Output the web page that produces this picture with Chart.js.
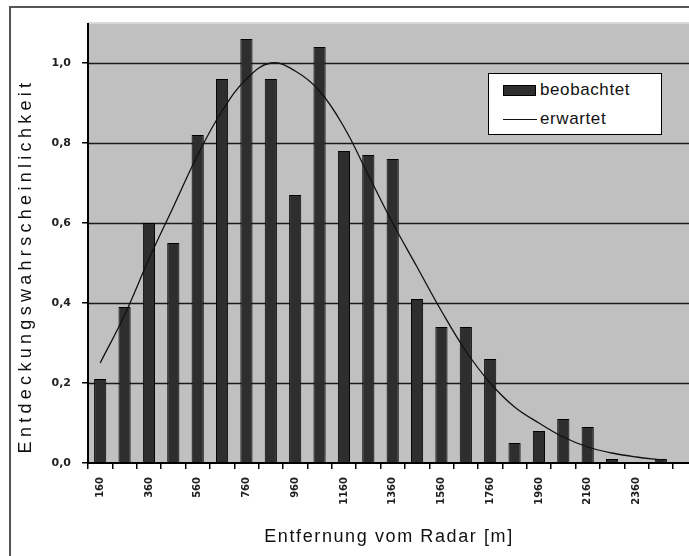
<!DOCTYPE html>
<html>
<head>
<meta charset="utf-8">
<script src="https://cdn.jsdelivr.net/npm/chart.js@4/dist/chart.umd.min.js"></script>
<style>
  html, body { margin: 0; padding: 0; background: #fff; }
  #wrap { position: relative; width: 689px; height: 556px; overflow: hidden; }
  #legend {
    position: absolute; left: 488px; top: 73px; width: 174px; height: 62px;
    background: #fff; border: 1px solid #000; box-sizing: border-box;
    font-family: 'Liberation Sans', Arial, sans-serif; font-size: 17px; letter-spacing: 0.6px; color: #111;
  }
  #legend .it { position: absolute; left: 14px; display: flex; align-items: center; }
  #legend .sw-bar { width: 31px; height: 9px; background: #2e2e2e; border: 1px solid #000; margin-right: 4px; }
  #legend .sw-line { width: 34px; height: 0; border-top: 1.5px solid #111; margin-right: 3px; }
</style>
</head>
<body>
<div id="wrap">
  <canvas id="chart-radar" width="689" height="556"></canvas>
  <div id="legend">
    <div class="it" style="top:6px"><span class="sw-bar"></span>beobachtet</div>
    <div class="it" style="top:35px"><span class="sw-line"></span>erwartet</div>
  </div>
</div>
<script>
// Entfernung (Kategorien, Schritt 100 m)
const ENTFERNUNG = [160, 260, 360, 460, 560, 660, 760, 860, 960, 1060, 1160, 1260,
                    1360, 1460, 1560, 1660, 1760, 1860, 1960, 2060, 2160, 2260, 2360, 2460];
// beobachtet (Balken)
const BEOBACHTET = [0.21, 0.39, 0.60, 0.55, 0.82, 0.96, 1.06, 0.96, 0.67, 1.04, 0.78, 0.77,
                    0.76, 0.41, 0.34, 0.34, 0.26, 0.05, 0.08, 0.11, 0.09, 0.01, 0, 0.01];
// erwartet (Kurve)
const ERWARTET = [0.25, 0.37, 0.51, 0.64, 0.77, 0.88, 0.96, 1.00, 0.98, 0.93, 0.84, 0.72,
                  0.60, 0.49, 0.38, 0.28, 0.20, 0.14, 0.10, 0.065, 0.04, 0.025, 0.015, 0.008];
const Y_TICKS = [0, 0.2, 0.4, 0.6, 0.8, 1.0];

const X_TITLE = 'Entfernung vom Radar [m]';
const Y_TITLE = 'Entdeckungswahrscheinlichkeit';

// Hintergrund, Rahmen, Gitter über die volle Breite
const plotBg = {
  id: 'plotBg',
  beforeDraw(chart) {
    const { ctx, chartArea: a, width, height } = chart;
    ctx.save();
    ctx.fillStyle = '#fff';
    ctx.fillRect(0, 0, width, height);
    ctx.strokeStyle = '#555';
    ctx.lineWidth = 2;
    ctx.beginPath();
    ctx.moveTo(10, height); ctx.lineTo(10, 7); ctx.lineTo(width, 7);
    ctx.stroke();
    ctx.fillStyle = '#c0c0c0';
    ctx.fillRect(a.left, a.top, width - a.left, a.bottom - a.top);
    ctx.fillStyle = '#d8d8d8';
    ctx.fillRect(a.left, a.top - 1, width - a.left, 2);
    ctx.restore();
  },
  beforeDatasetsDraw(chart) {
    const { ctx, chartArea: a, width, scales: { y } } = chart;
    ctx.save();
    ctx.strokeStyle = '#1a1a1a';
    ctx.lineWidth = 1.6;
    Y_TICKS.forEach(v => {
      if (v === 0) return;
      const py = Math.round(y.getPixelForValue(v)) + 0.5;
      ctx.beginPath(); ctx.moveTo(a.left, py); ctx.lineTo(width, py); ctx.stroke();
    });
    ctx.restore();
  },
  afterDraw(chart) {
    const { ctx, chartArea: a, width, scales: { y } } = chart;
    ctx.save();
    ctx.strokeStyle = '#000';
    ctx.lineWidth = 2;
    const py = y.getPixelForValue(0);
    ctx.beginPath(); ctx.moveTo(a.left, py); ctx.lineTo(width, py); ctx.stroke();
    ctx.beginPath(); ctx.moveTo(a.left, a.top); ctx.lineTo(a.left, py); ctx.stroke();
    // Achsentitel
    ctx.fillStyle = '#111';
    ctx.font = "18px 'Liberation Sans', Arial, sans-serif";
    ctx.textAlign = 'center';
    ctx.textBaseline = 'middle';
    ctx.letterSpacing = '1.6px';
    ctx.fillText(X_TITLE, 389, 537);
    ctx.translate(26, 266);
    ctx.rotate(-Math.PI / 2);
    ctx.letterSpacing = '4.3px';
    ctx.fillText(Y_TITLE, 0, 0);
    ctx.restore();
  }
};

new Chart(document.getElementById('chart-radar').getContext('2d'), {
  type: 'bar',
  data: {
    labels: ENTFERNUNG,
    datasets: [
      {
        type: 'line',
        label: 'erwartet',
        data: ERWARTET,
        borderColor: '#111',
        borderWidth: 1.3,
        pointRadius: 0,
        tension: 0.4,
        fill: false,
        order: 0
      },
      {
        label: 'beobachtet',
        data: BEOBACHTET,
        backgroundColor: '#2e2e2e',
        borderColor: '#000',
        borderWidth: 1,
        categoryPercentage: 1,
        barPercentage: 0.5,
        order: 1
      }
    ]
  },
  options: {
    responsive: false,
    animation: false,
    devicePixelRatio: 1,
    layout: { padding: { top: 23, right: 16, left: 0, bottom: 0 } },
    plugins: { legend: { display: false }, tooltip: { enabled: false } },
    scales: {
      x: {
        offset: true,
        afterFit: s => { s.height = 93; },
        grid: { offset: true, drawOnChartArea: false, drawTicks: true, tickLength: 6, color: '#000', lineWidth: 1.5 },
        border: { display: false },
        ticks: {
          autoSkip: false, minRotation: 90, maxRotation: 90, padding: 8, color: '#222',
          font: { family: "'DejaVu Sans', sans-serif", size: 10, weight: 'bold' },
          callback: (v, i) => i % 2 === 0 ? String(ENTFERNUNG[i]) : ''
        }
      },
      y: {
        min: 0, max: 1.1,
        afterFit: s => { s.width = 88; },
        afterBuildTicks: s => { s.ticks = Y_TICKS.map(v => ({ value: v })); },
        grid: { drawOnChartArea: false, drawTicks: true, tickLength: 6, color: '#000', lineWidth: 1.5 },
        border: { display: false },
        ticks: {
          padding: 11, color: '#222',
          font: { family: "'DejaVu Sans', sans-serif", size: 11, weight: 'bold' },
          callback: v => v.toFixed(1).replace('.', ',')
        }
      }
    }
  },
  plugins: [plotBg]
});
</script>
</body>
</html>
